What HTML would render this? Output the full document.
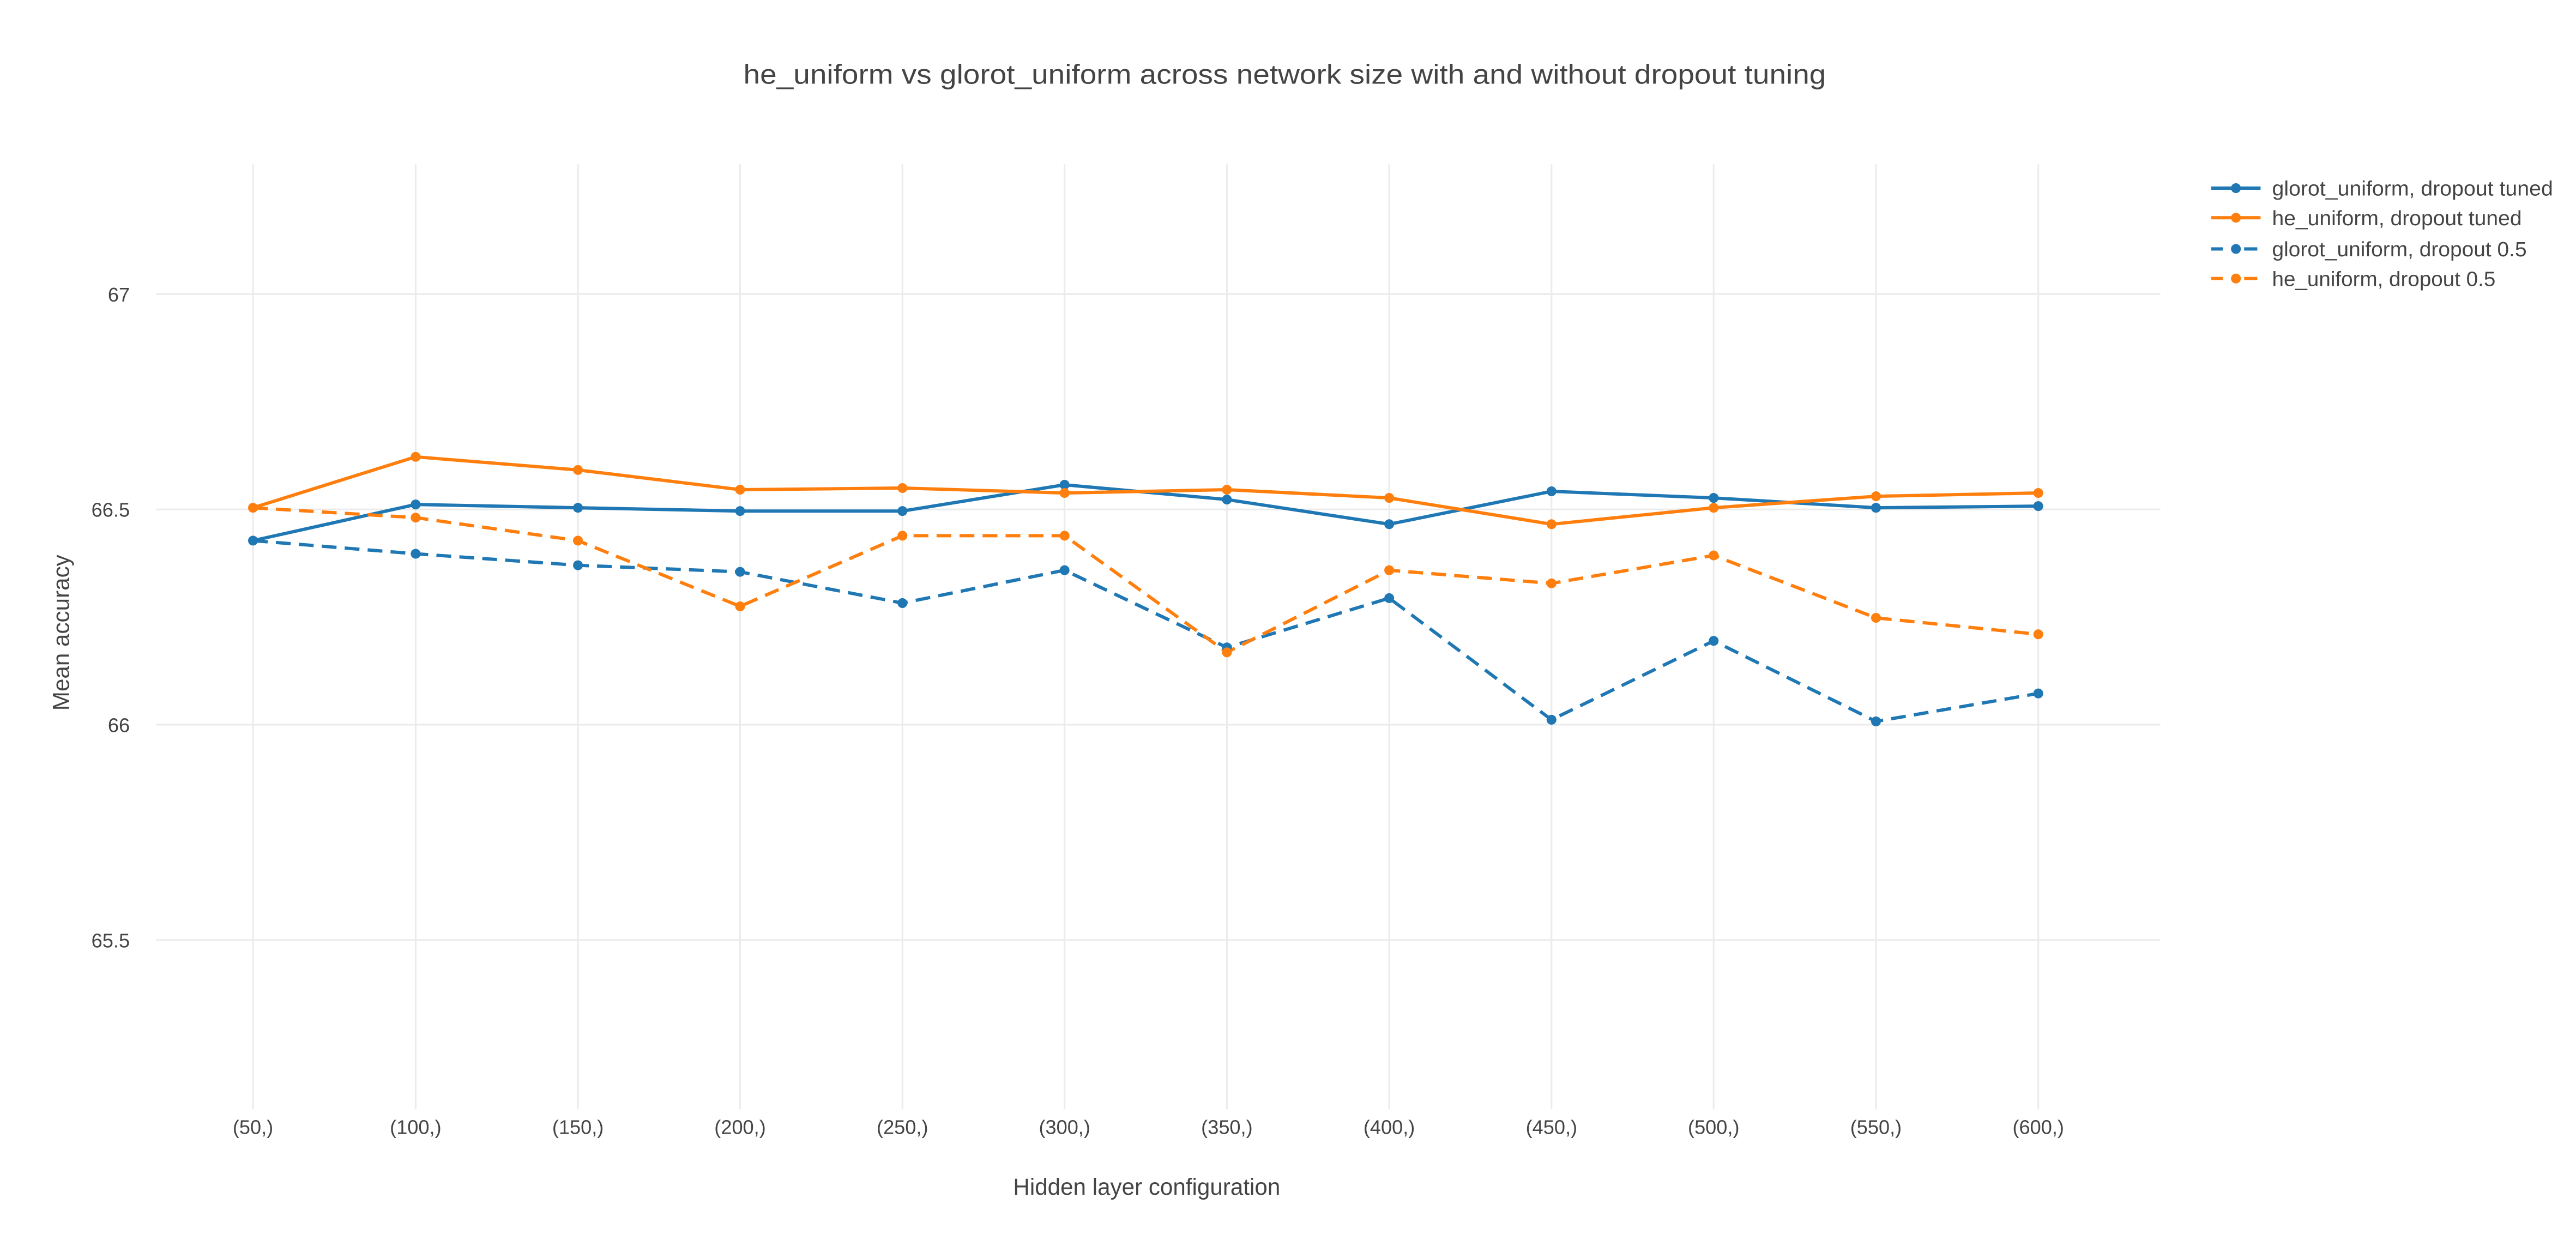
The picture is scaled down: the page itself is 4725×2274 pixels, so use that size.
<!DOCTYPE html>
<html><head><meta charset="utf-8"><style>
html,body{margin:0;padding:0;background:#fff;width:4725px;height:2274px;overflow:hidden}
svg{display:block}
text{font-family:"Liberation Sans",sans-serif;fill:#444}
</style></head><body>
<svg width="4725" height="2274" viewBox="0 0 1568 754.6" preserveAspectRatio="none" xmlns="http://www.w3.org/2000/svg">
<text x="782" y="51" font-size="16.5" text-anchor="middle" textLength="659" lengthAdjust="spacingAndGlyphs">he_uniform vs glorot_uniform across network size with and without dropout tuning</text>
<g stroke="#ebebeb" stroke-width="1">
<line x1="154" y1="100" x2="154" y2="675"/><line x1="253" y1="100" x2="253" y2="675"/><line x1="351.8" y1="100" x2="351.8" y2="675"/><line x1="450.5" y1="100" x2="450.5" y2="675"/><line x1="549.3" y1="100" x2="549.3" y2="675"/><line x1="648" y1="100" x2="648" y2="675"/><line x1="746.8" y1="100" x2="746.8" y2="675"/><line x1="845.6" y1="100" x2="845.6" y2="675"/><line x1="944.4" y1="100" x2="944.4" y2="675"/><line x1="1043.1" y1="100" x2="1043.1" y2="675"/><line x1="1141.9" y1="100" x2="1141.9" y2="675"/><line x1="1240.7" y1="100" x2="1240.7" y2="675"/>
<line x1="95" y1="179" x2="1315" y2="179"/><line x1="95" y1="310" x2="1315" y2="310"/><line x1="95" y1="441" x2="1315" y2="441"/><line x1="95" y1="572" x2="1315" y2="572"/>
</g>
<g font-size="12" text-anchor="end">
<text x="79" y="183.5">67</text><text x="79" y="314.5">66.5</text><text x="79" y="445.5">66</text><text x="79" y="576.5">65.5</text>
</g>
<g font-size="12" text-anchor="middle">
<text x="154" y="690">(50,)</text><text x="253" y="690">(100,)</text><text x="351.8" y="690">(150,)</text><text x="450.5" y="690">(200,)</text><text x="549.3" y="690">(250,)</text><text x="648" y="690">(300,)</text><text x="746.8" y="690">(350,)</text><text x="845.6" y="690">(400,)</text><text x="944.4" y="690">(450,)</text><text x="1043.1" y="690">(500,)</text><text x="1141.9" y="690">(550,)</text><text x="1240.7" y="690">(600,)</text>
</g>
<text x="698" y="727" font-size="14" text-anchor="middle">Hidden layer configuration</text>
<text transform="translate(42,385) rotate(-90)" font-size="14" text-anchor="middle">Mean accuracy</text>
<g fill="none" stroke-width="2">
<polyline stroke="#1f77b4" points="154,329 253,307 351.8,309 450.5,311 549.3,311 648,295 746.8,304 845.6,319 944.4,299 1043.1,303 1141.9,309 1240.7,308"/>
<polyline stroke="#ff7f0e" points="154,309 253,278 351.8,286 450.5,298 549.3,297 648,300 746.8,298 845.6,303 944.4,319 1043.1,309 1141.9,302 1240.7,300"/>
<polyline stroke="#1f77b4" stroke-dasharray="9,5" points="154,329 253,337 351.8,344 450.5,348 549.3,367 648,347 746.8,394 845.6,364 944.4,438 1043.1,390 1141.9,439 1240.7,422"/>
<polyline stroke="#ff7f0e" stroke-dasharray="9,5" points="154,309 253,315 351.8,329 450.5,369 549.3,326 648,326 746.8,397 845.6,347 944.4,355 1043.1,338 1141.9,376 1240.7,386"/>
</g>
<g fill="#1f77b4">
<circle cx="154" cy="329" r="3"/><circle cx="253" cy="307" r="3"/><circle cx="351.8" cy="309" r="3"/><circle cx="450.5" cy="311" r="3"/><circle cx="549.3" cy="311" r="3"/><circle cx="648" cy="295" r="3"/><circle cx="746.8" cy="304" r="3"/><circle cx="845.6" cy="319" r="3"/><circle cx="944.4" cy="299" r="3"/><circle cx="1043.1" cy="303" r="3"/><circle cx="1141.9" cy="309" r="3"/><circle cx="1240.7" cy="308" r="3"/>
<circle cx="253" cy="337" r="3"/><circle cx="351.8" cy="344" r="3"/><circle cx="450.5" cy="348" r="3"/><circle cx="549.3" cy="367" r="3"/><circle cx="648" cy="347" r="3"/><circle cx="746.8" cy="394" r="3"/><circle cx="845.6" cy="364" r="3"/><circle cx="944.4" cy="438" r="3"/><circle cx="1043.1" cy="390" r="3"/><circle cx="1141.9" cy="439" r="3"/><circle cx="1240.7" cy="422" r="3"/>
</g>
<g fill="#ff7f0e">
<circle cx="154" cy="309" r="3"/><circle cx="253" cy="278" r="3"/><circle cx="351.8" cy="286" r="3"/><circle cx="450.5" cy="298" r="3"/><circle cx="549.3" cy="297" r="3"/><circle cx="648" cy="300" r="3"/><circle cx="746.8" cy="298" r="3"/><circle cx="845.6" cy="303" r="3"/><circle cx="944.4" cy="319" r="3"/><circle cx="1043.1" cy="309" r="3"/><circle cx="1141.9" cy="302" r="3"/><circle cx="1240.7" cy="300" r="3"/>
<circle cx="253" cy="315" r="3"/><circle cx="351.8" cy="329" r="3"/><circle cx="450.5" cy="369" r="3"/><circle cx="549.3" cy="326" r="3"/><circle cx="648" cy="326" r="3"/><circle cx="746.8" cy="397" r="3"/><circle cx="845.6" cy="347" r="3"/><circle cx="944.4" cy="355" r="3"/><circle cx="1043.1" cy="338" r="3"/><circle cx="1141.9" cy="376" r="3"/><circle cx="1240.7" cy="386" r="3"/>
</g>
<g stroke-width="2">
<line x1="1346" y1="114.5" x2="1376" y2="114.5" stroke="#1f77b4"/><circle cx="1361" cy="114.5" r="3" fill="#1f77b4"/>
<line x1="1346" y1="132.5" x2="1376" y2="132.5" stroke="#ff7f0e"/><circle cx="1361" cy="132.5" r="3" fill="#ff7f0e"/>
<line x1="1346" y1="151.5" x2="1353" y2="151.5" stroke="#1f77b4"/><line x1="1366" y1="151.5" x2="1374" y2="151.5" stroke="#1f77b4"/><circle cx="1361" cy="151.5" r="3" fill="#1f77b4"/>
<line x1="1346" y1="169.5" x2="1353" y2="169.5" stroke="#ff7f0e"/><line x1="1366" y1="169.5" x2="1374" y2="169.5" stroke="#ff7f0e"/><circle cx="1361" cy="169.5" r="3" fill="#ff7f0e"/>
</g>
<g font-size="12.5">
<text x="1383" y="119" textLength="171" lengthAdjust="spacingAndGlyphs">glorot_uniform, dropout tuned</text>
<text x="1383" y="137" textLength="152" lengthAdjust="spacingAndGlyphs">he_uniform, dropout tuned</text>
<text x="1383" y="156" textLength="155" lengthAdjust="spacingAndGlyphs">glorot_uniform, dropout 0.5</text>
<text x="1383" y="174" textLength="136" lengthAdjust="spacingAndGlyphs">he_uniform, dropout 0.5</text>
</g>
</svg>
</body></html>
